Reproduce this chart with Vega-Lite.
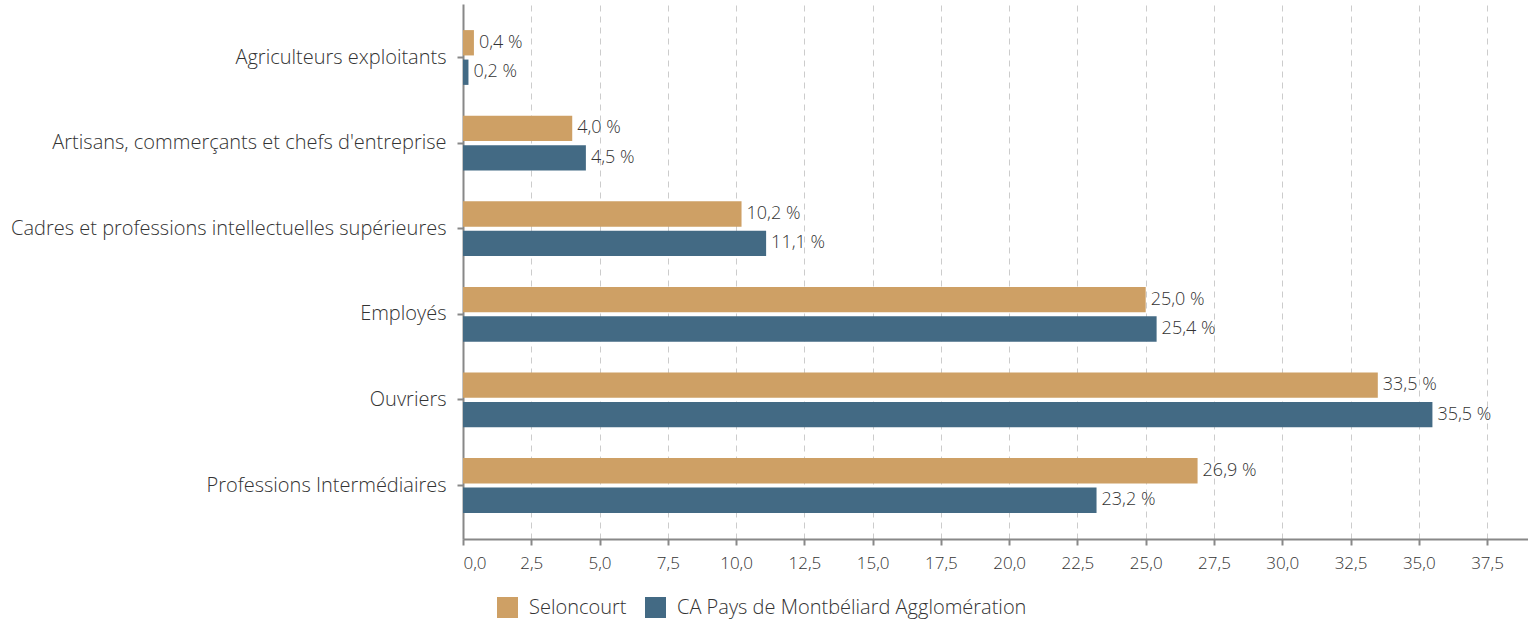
{
  "$schema": "https://vega.github.io/schema/vega-lite/v6.json",
  "autosize": {"type": "none"},
  "width": 1065,
  "height": 535,
  "padding": {"left": 463, "top": 4, "right": 0, "bottom": 89},
  "background": "white",
  "data": {
    "values": [
      {"cat": "Agriculteurs exploitants", "series": "Seloncourt", "value": 0.4},
      {"cat": "Agriculteurs exploitants", "series": "CA Pays de Montbéliard Agglomération", "value": 0.2},
      {"cat": "Artisans, commerçants et chefs d'entreprise", "series": "Seloncourt", "value": 4.0},
      {"cat": "Artisans, commerçants et chefs d'entreprise", "series": "CA Pays de Montbéliard Agglomération", "value": 4.5},
      {"cat": "Cadres et professions intellectuelles supérieures", "series": "Seloncourt", "value": 10.2},
      {"cat": "Cadres et professions intellectuelles supérieures", "series": "CA Pays de Montbéliard Agglomération", "value": 11.1},
      {"cat": "Employés", "series": "Seloncourt", "value": 25.0},
      {"cat": "Employés", "series": "CA Pays de Montbéliard Agglomération", "value": 25.4},
      {"cat": "Ouvriers", "series": "Seloncourt", "value": 33.5},
      {"cat": "Ouvriers", "series": "CA Pays de Montbéliard Agglomération", "value": 35.5},
      {"cat": "Professions Intermédiaires", "series": "Seloncourt", "value": 26.9},
      {"cat": "Professions Intermédiaires", "series": "CA Pays de Montbéliard Agglomération", "value": 23.2}
    ]
  },
  "transform": [
    {"calculate": "replace(format(datum.value, '.1f'), '.', ',') + ' %'", "as": "label"}
  ],
  "encoding": {
    "y": {
      "field": "cat", "type": "nominal", "sort": null, "title": null,
      "scale": {"paddingInner": 0.36, "paddingOuter": 0.305},
      "axis": {
        "domainColor": "#888888", "domainWidth": 2, "tickColor": "#888888", "tickWidth": 2, "tickSize": 6,
        "labelFont": "Open Sans", "labelFontSize": 20, "labelFontWeight": 300, "labelColor": "#333333", "labelPadding": 11, "grid": false, "labelLimit": 500
      }
    },
    "yOffset": {
      "field": "series", "type": "nominal",
      "sort": ["Seloncourt", "CA Pays de Montbéliard Agglomération"],
      "scale": {"paddingInner": 0.14, "paddingOuter": 0}
    },
    "x": {
      "field": "value", "type": "quantitative", "title": null,
      "scale": {"domain": [0, 39], "nice": false, "zero": true},
      "axis": {
        "values": [0, 2.5, 5, 7.5, 10, 12.5, 15, 17.5, 20, 22.5, 25, 27.5, 30, 32.5, 35, 37.5],
        "labelExpr": "replace(format(datum.value, '.1f'), '.', ',')",
        "domainColor": "#888888", "domainWidth": 2, "tickColor": "#888888", "tickWidth": 2, "tickSize": 6,
        "grid": true, "gridColor": "#cccccc", "gridDash": [6, 5], "gridWidth": 1,
        "labelFont": "Open Sans", "labelFontSize": 17, "labelFontWeight": 300, "labelColor": "#333333", "labelPadding": 10
      }
    }
  },
  "layer": [
    {
      "mark": {"type": "bar"},
      "encoding": {
        "color": {
          "field": "series", "type": "nominal",
          "sort": ["Seloncourt", "CA Pays de Montbéliard Agglomération"],
          "scale": {"domain": ["Seloncourt", "CA Pays de Montbéliard Agglomération"], "range": ["#CEA065", "#436A84"]},
          "legend": {
            "title": null, "orient": "none", "direction": "horizontal",
            "legendX": 34, "legendY": 593,
            "symbolType": "square", "symbolSize": 441, "symbolStrokeWidth": 0,
            "labelFont": "Open Sans", "labelFontSize": 20, "labelFontWeight": 300, "labelColor": "#333333",
            "labelLimit": 600, "columnPadding": 18, "labelOffset": 11
          }
        }
      }
    },
    {
      "mark": {"type": "text", "align": "left", "baseline": "middle", "dx": 5, "font": "Open Sans", "fontSize": 18, "fontWeight": 300, "color": "#333333"},
      "encoding": {"text": {"field": "label"}}
    }
  ],
  "config": {"view": {"stroke": null}}
}
